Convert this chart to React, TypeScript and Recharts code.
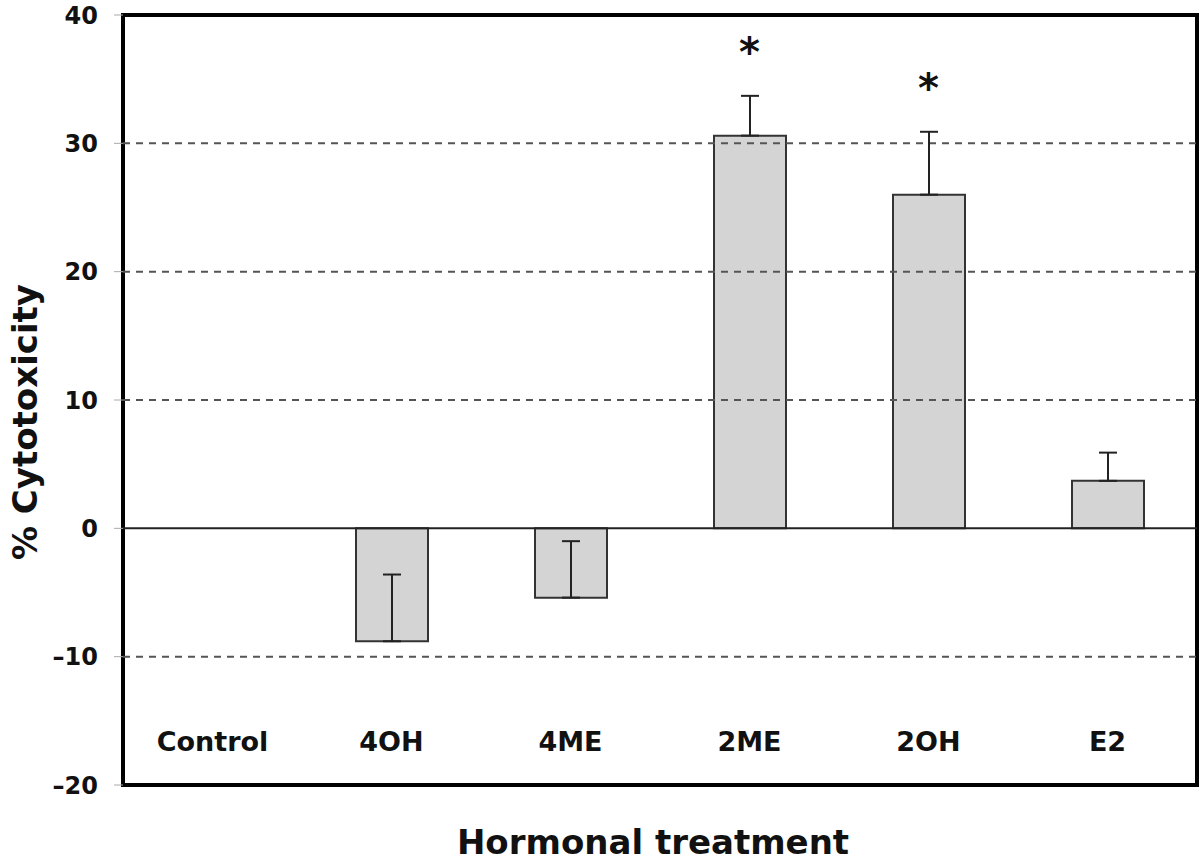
import React from 'react'
import {
  ComposedChart,
  Bar,
  ErrorBar,
  Scatter,
  XAxis,
  YAxis,
  ReferenceLine,
  ReferenceArea,
  Label,
} from 'recharts'

const categories = ['Control', '4OH', '4ME', '2ME', '2OH', 'E2']
const cytotoxicity = [0, -8.8, -5.4, 30.6, 26.0, 3.7]
const plusError = [0, 5.2, 4.4, 3.1, 4.9, 2.2]
const significant = [false, false, false, true, true, false]
const yTicks = [-20, -10, 0, 10, 20, 30, 40]
const dashedLevels = [-10, 10, 20, 30]

const FONT = '"DejaVu Sans", Arial, sans-serif'

const data = categories.map((name, i) => ({
  name,
  value: cytotoxicity[i],
  err: [0, plusError[i]],
  star: significant[i] ? cytotoxicity[i] + plusError[i] : null,
}))

const CategoryTick = (props: any) => {
  const { x, y, payload } = props
  return (
    <text x={x} y={y - 34} textAnchor="middle" fontFamily={FONT} fontWeight="bold" fontSize={27} fill="#111">
      {payload.value}
    </text>
  )
}

const Star = (props: any) => {
  const { cx, cy, payload } = props
  if (payload.star == null) return null
  return (
    <text x={cx} y={cy - 30} textAnchor="middle" fontFamily={FONT} fontWeight="bold" fontSize={40} fill="#111">
      *
    </text>
  )
}

const YTitle = (props: any) => {
  const { viewBox } = props
  const cy = viewBox.y + viewBox.height / 2 + 22
  return (
    <text
      x={25}
      y={cy}
      transform={`rotate(-90, 25, ${cy})`}
      textAnchor="middle"
      dominantBaseline="central"
      fontFamily={FONT}
      fontWeight="bold"
      fontSize={34}
      fill="#111"
    >
      % Cytotoxicity
    </text>
  )
}

const XTitle = (props: any) => {
  const { viewBox } = props
  const cx = viewBox.x + viewBox.width / 2 - 7
  return (
    <text x={cx} y={854} textAnchor="middle" fontFamily={FONT} fontWeight="bold" fontSize={34} fill="#111">
      Hormonal treatment
    </text>
  )
}

export default function App() {
  return (
    <div style={{ position: 'absolute', left: 0, top: 0, background: '#fff' }}>
      <ComposedChart width={1200} height={863} data={data} margin={{ top: 15, right: 3, bottom: 0, left: 0 }}>
        <XAxis
          dataKey="name"
          height={78}
          axisLine={false}
          tickLine={false}
          tickSize={0}
          tickMargin={0}
          tick={<CategoryTick />}
          interval={0}
        >
          <Label content={<XTitle />} />
        </XAxis>
        <YAxis
          width={123}
          domain={[-20, 40]}
          ticks={yTicks}
          interval={0}
          axisLine={false}
          tickLine={{ stroke: '#aaa' }}
          tickSize={9}
          tickMargin={16}
          tickFormatter={(v: number) => (v < 0 ? `\u2013${Math.abs(v)}` : `${v}`)}
          tick={{ fontFamily: FONT, fontWeight: 'bold', fontSize: 24, fill: '#111' }}
        >
          <Label content={<YTitle />} />
        </YAxis>
        {dashedLevels.map((lv) => (
          <ReferenceLine key={lv} y={lv} stroke="#555" strokeWidth={2} strokeDasharray="7 6" />
        ))}
        <ReferenceLine y={0} stroke="#222" strokeWidth={2} />
        <Bar dataKey="value" barSize={72} fill="#d4d4d4" stroke="#333" strokeWidth={2} isAnimationActive={false}>
          <ErrorBar dataKey="err" direction="y" width={9} stroke="#222" strokeWidth={2} />
        </Bar>
        <Scatter dataKey="star" shape={<Star />} isAnimationActive={false} />
        <ReferenceArea y1={-20} y2={40} fill="none" stroke="#000" strokeWidth={4} ifOverflow="visible" />
      </ComposedChart>
    </div>
  )
}
